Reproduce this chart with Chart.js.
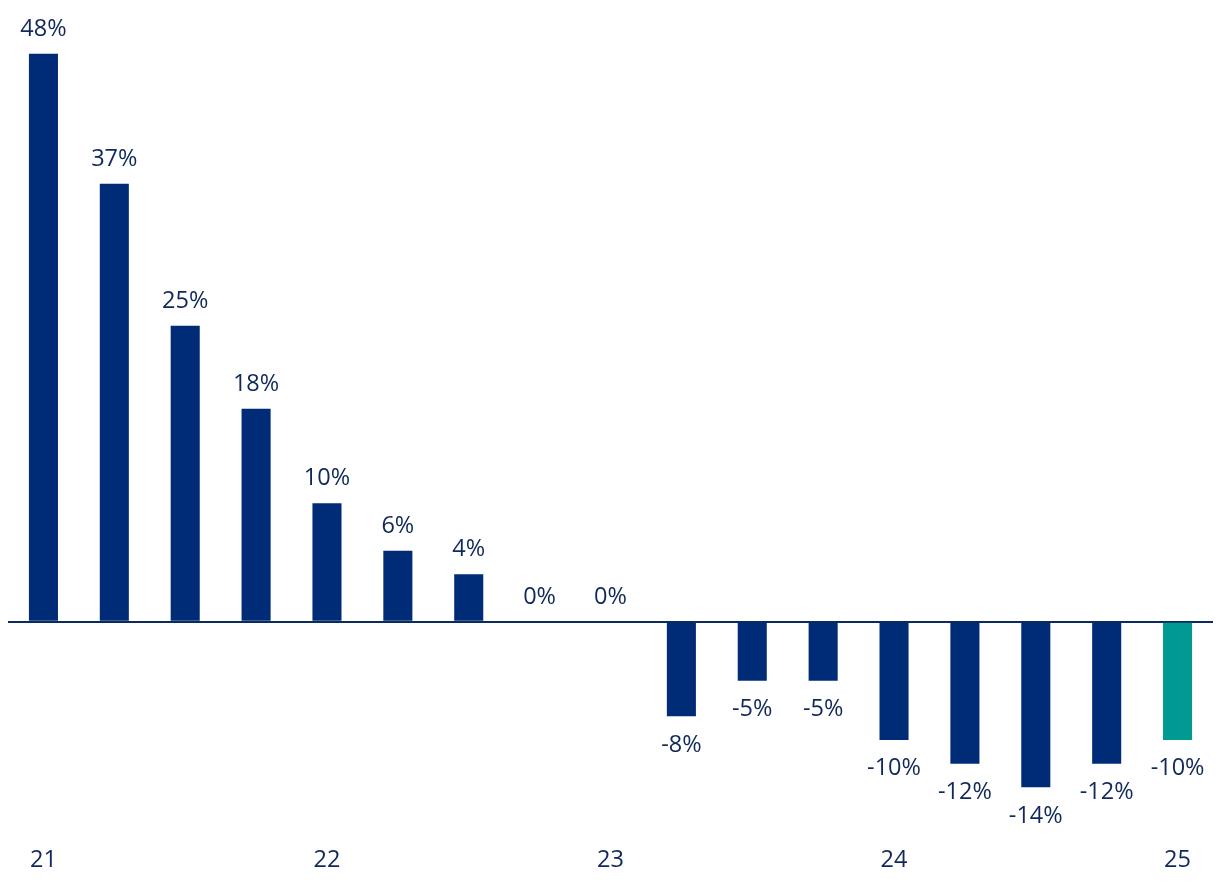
<!DOCTYPE html>
<html>
<head>
<meta charset="utf-8">
<script src="https://cdn.jsdelivr.net/npm/chart.js@4"></script>
<style>
    html, body { margin: 0; padding: 0; background: #ffffff; }
    #wrap { width: 1220px; height: 896px; }
</style>
</head>
<body>
<div id="wrap"><canvas id="chart"></canvas></div>
<script>
// Quarterly change, 2021 Q1 to 2025 Q1
const categories = ["21 Q1", "21 Q2", "21 Q3", "21 Q4", "22 Q1", "22 Q2", "22 Q3", "22 Q4",
    "23 Q1", "23 Q2", "23 Q3", "23 Q4", "24 Q1", "24 Q2", "24 Q3", "24 Q4", "25 Q1"];
const values = [48, 37, 25, 18, 10, 6, 4, 0, 0, -8, -5, -5, -10, -12, -14, -12, -10];
const tickLabels = ["21", "", "", "", "22", "", "", "", "23", "", "", "", "24", "", "", "", "25"];

const NAVY = "#002b76";
const TEAL = "#009a93";
const TEXT = "#10295a";
const FONT = "'Open Sans', sans-serif";

// Value labels above positive bars, below negative ones
const valueLabels = {
    id: "valueLabels",
    afterDatasetsDraw(chart) {
        const ctx = chart.ctx;
        const meta = chart.getDatasetMeta(0);
        ctx.save();
        ctx.font = "23.5px " + FONT;
        ctx.fillStyle = TEXT;
        ctx.textAlign = "center";
        meta.data.forEach((bar, i) => {
            const v = values[i];
            if (v < 0) {
                ctx.textBaseline = "top";
                ctx.fillText(v + "%", bar.x, bar.y + 17);
            } else {
                ctx.textBaseline = "bottom";
                ctx.fillText(v + "%", bar.x, bar.y - 13);
            }
        });
        ctx.restore();
    }
};

new Chart(document.getElementById("chart"), {
    type: "bar",
    data: {
        labels: categories,
        datasets: [{
            data: values,
            backgroundColor: values.map((v, i) => i === values.length - 1 ? TEAL : NAVY),
            barPercentage: 0.41,
            categoryPercentage: 1
        }]
    },
    options: {
        responsive: true,
        maintainAspectRatio: false,
        animation: false,
        layout: { padding: { top: 30, left: 8, right: 7, bottom: 0 } },
        plugins: {
            legend: { display: false },
            tooltip: { enabled: false }
        },
        scales: {
            x: {
                grid: { display: false },
                border: { display: false },
                afterFit: (scale) => { scale.height = 85; },
                ticks: {
                    autoSkip: false,
                    maxRotation: 0,
                    padding: 27,
                    color: TEXT,
                    font: { family: FONT, size: 23.5 },
                    callback: (val, i) => tickLabels[i]
                }
            },
            y: {
                min: -16,
                max: 50,
                border: { display: false },
                afterFit: (scale) => { scale.width = 0; },
                grid: {
                    drawTicks: false,
                    lineWidth: 2,
                    color: (c) => c.tick && c.tick.value === 0 ? "#0b2a5e" : "rgba(0,0,0,0)"
                },
                ticks: { display: false, stepSize: 2 }
            }
        }
    },
    plugins: [valueLabels]
});
</script>
</body>
</html>
